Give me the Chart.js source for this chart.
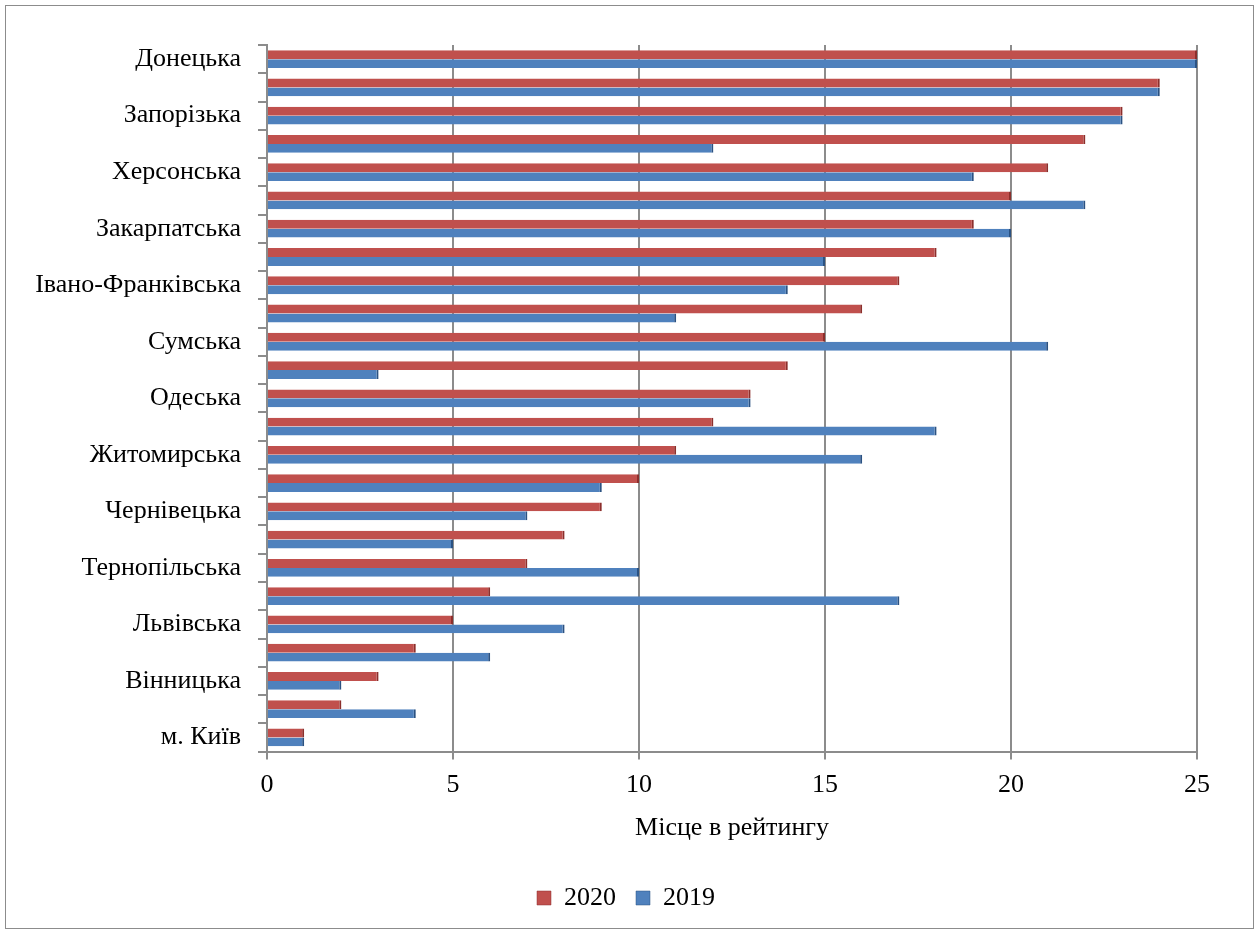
<!DOCTYPE html>
<html>
<head>
<meta charset="utf-8">
<script src="https://cdn.jsdelivr.net/npm/chart.js@4.4.1/dist/chart.umd.min.js"></script>
<style>
  html, body { margin: 0; padding: 0; background: #fff; }
  #wrap { width: 1259px; height: 931px; position: relative; }
</style>
</head>
<body>
<div id="wrap"><canvas id="chart" width="1259" height="931"></canvas></div>
<script>
// regions, top to bottom (only every other one is labelled on the original)
const regions = ['Донецька', '', 'Запорізька', '', 'Херсонська', '', 'Закарпатська', '',
    'Івано-Франківська', '', 'Сумська', '', 'Одеська', '', 'Житомирська', '',
    'Чернівецька', '', 'Тернопільська', '', 'Львівська', '', 'Вінницька', '', 'м. Київ'];
const rank2020 = [25, 24, 23, 22, 21, 20, 19, 18, 17, 16, 15, 14, 13, 12, 11, 10, 9, 8, 7, 6, 5, 4, 3, 2, 1];
const rank2019 = [25, 24, 23, 12, 19, 22, 20, 15, 14, 11, 21, 3, 13, 18, 16, 9, 7, 5, 10, 17, 8, 6, 2, 4, 1];
const xTicks = [0, 5, 10, 15, 20, 25];

const serif = "'Liberation Serif', 'Times New Roman', serif";

// white page + thin outer frame
const framePlugin = {
    id: 'frame',
    beforeDraw(chart) {
        const ctx = chart.ctx;
        ctx.save();
        ctx.fillStyle = '#fff';
        ctx.fillRect(0, 0, chart.width, chart.height);
        ctx.strokeStyle = '#8c8c8c';
        ctx.lineWidth = 1;
        ctx.strokeRect(5.5, 5.5, chart.width - 11, chart.height - 8);
        ctx.restore();
    }
};

const ctx = document.getElementById('chart').getContext('2d');
new Chart(ctx, {
    type: 'bar',
    data: {
        labels: regions,
        datasets: [{
            label: '2020',
            data: rank2020,
            backgroundColor: '#C0504D',
            borderColor: '#8c2f2c',
            borderWidth: { right: 2, top: 0, bottom: 0, left: 0 },
            borderSkipped: false
        }, {
            label: '2019',
            data: rank2019,
            backgroundColor: '#4F81BD',
            borderColor: '#2b5282',
            borderWidth: { right: 2, top: 0, bottom: 0, left: 0 },
            borderSkipped: false
        }]
    },
    options: {
        indexAxis: 'y',
        responsive: false,
        animation: false,
        devicePixelRatio: 1,
        layout: { padding: { top: 45, right: 40, bottom: 10, left: 33 } },
        datasets: { bar: { categoryPercentage: 0.63, barPercentage: 1.0 } },
        scales: {
            x: {
                min: 0,
                max: 25,
                afterBuildTicks: axis => { axis.ticks = xTicks.map(v => ({ value: v })); },
                ticks: { color: '#000', font: { family: serif, size: 26 }, padding: 10 },
                grid: { color: '#8c8c8c', lineWidth: 2, tickLength: 8 },
                border: { color: '#8c8c8c', width: 2 },
                title: {
                    display: true,
                    text: 'Місце в рейтингу',
                    color: '#000',
                    font: { family: serif, size: 26 },
                    padding: { top: 2, bottom: 21 }
                }
            },
            y: {
                afterFit: scale => { scale.width = 234; },
                ticks: { autoSkip: false, color: '#000', font: { family: serif, size: 26 }, padding: 17 },
                grid: { drawOnChartArea: false, color: '#8c8c8c', lineWidth: 2, tickLength: 9, offset: true },
                border: { color: '#8c8c8c', width: 2 }
            },
            // empty spacer on the right so the legend stays centred on the page
            yRight: {
                axis: 'y',
                position: 'right',
                afterFit: scale => { scale.width = 22; },
                grid: { display: false },
                ticks: { display: false },
                border: { display: false }
            }
        },
        plugins: {
            legend: {
                position: 'bottom',
                labels: {
                    boxWidth: 14,
                    boxHeight: 14,
                    padding: 20,
                    color: '#000',
                    font: { family: serif, size: 26 }
                }
            },
            tooltip: { enabled: false }
        }
    },
    plugins: [framePlugin]
});
</script>
</body>
</html>
